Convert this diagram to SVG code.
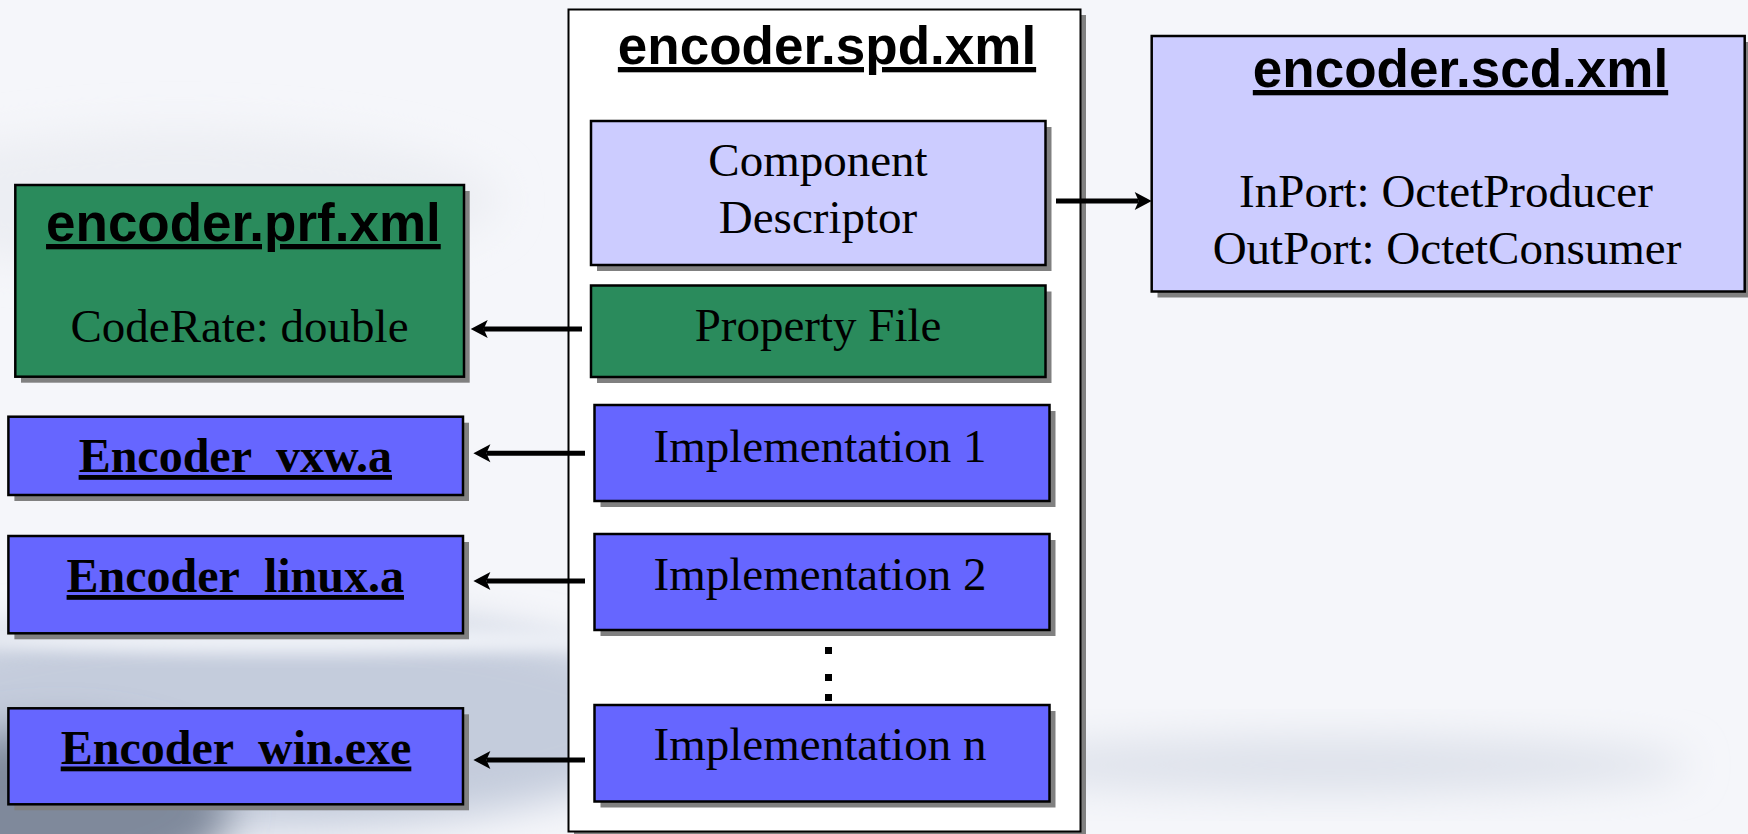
<svg xmlns="http://www.w3.org/2000/svg" width="1748" height="834" viewBox="0 0 1748 834">
  <defs>
    <style>
      .box { stroke: #000; stroke-width: 2.5; }
      .shadow { fill: #808080; }
      .lilac { fill: #ccccff; }
      .green { fill: #2a8b5c; }
      .blue { fill: #6666ff; }
      .title { font-family: "Liberation Sans", Arial, sans-serif; font-weight: bold; font-size: 53px; text-anchor: middle; fill: #000; text-decoration: underline; }
      .serif { font-family: "Liberation Serif", "Times New Roman", serif; font-size: 47px; text-anchor: middle; fill: #000; }
      .file { font-family: "Liberation Serif", "Times New Roman", serif; font-weight: bold; font-size: 48px; text-anchor: middle; fill: #000; text-decoration: underline; }
      .conn { stroke: #000; stroke-width: 5; fill: none; marker-end: url(#head); }
    </style>
    <marker id="head" markerUnits="userSpaceOnUse" markerWidth="30" markerHeight="30" refX="0" refY="0" orient="auto" overflow="visible">
      <path d="M -4,-9 L 13,0 L -4,9 L 0,0 Z" fill="#000"/>
    </marker>
    <filter id="blur20" x="-50%" y="-50%" width="200%" height="200%"><feGaussianBlur stdDeviation="20"/></filter>
    <filter id="blur8" x="-50%" y="-50%" width="200%" height="200%"><feGaussianBlur stdDeviation="8"/></filter>
  </defs>

  <!-- background -->
  <g id="background">
    <rect x="0" y="0" width="1748" height="834" fill="#f5f6fa"/>
    <ellipse cx="180" cy="200" rx="320" ry="70" fill="#eceef3" filter="url(#blur20)"/>
    <ellipse cx="260" cy="720" rx="420" ry="110" fill="#c4ccdc" filter="url(#blur20)"/>
    <ellipse cx="300" cy="640" rx="330" ry="14" fill="#eef1f7" filter="url(#blur8)"/>
    <ellipse cx="60" cy="810" rx="170" ry="80" fill="#7f899b" filter="url(#blur20)"/>
    <ellipse cx="1330" cy="765" rx="360" ry="28" fill="#dde1ea" filter="url(#blur20)"/>
  </g>

  <!-- container -->
  <g id="spd">
    <rect class="shadow" x="574" y="15" width="512" height="822"/>
    <rect x="568.5" y="9.5" width="512" height="822" fill="#fff" stroke="#000" stroke-width="2"/>
    <text class="title" x="827" y="64">encoder.spd.xml</text>
  </g>

  <g id="component-descriptor">
    <rect class="shadow" x="597" y="127" width="454.5" height="144"/>
    <rect class="box lilac" x="591" y="121" width="454.5" height="144"/>
    <text class="serif" x="818" y="176">Component</text>
    <text class="serif" x="818" y="233">Descriptor</text>
  </g>

  <g id="property-file">
    <rect class="shadow" x="597" y="291.5" width="454.5" height="91.5"/>
    <rect class="box green" x="591" y="285.5" width="454.5" height="91.5"/>
    <text class="serif" x="818" y="341">Property File</text>
  </g>

  <g id="impl1">
    <rect class="shadow" x="600.5" y="411" width="455" height="96"/>
    <rect class="box blue" x="594.5" y="405" width="455" height="96"/>
    <text class="serif" x="820" y="462">Implementation 1</text>
  </g>

  <g id="impl2">
    <rect class="shadow" x="600.5" y="540" width="455" height="96"/>
    <rect class="box blue" x="594.5" y="534" width="455" height="96"/>
    <text class="serif" x="820" y="590">Implementation 2</text>
  </g>

  <g id="ellipsis">
    <rect x="825" y="647" width="7" height="7" fill="#000"/>
    <rect x="825" y="674" width="7" height="7" fill="#000"/>
    <rect x="825" y="694" width="7" height="7" fill="#000"/>
  </g>

  <g id="implN">
    <rect class="shadow" x="600.5" y="711" width="455" height="96.5"/>
    <rect class="box blue" x="594.5" y="705" width="455" height="96.5"/>
    <text class="serif" x="820" y="760">Implementation n</text>
  </g>

  <g id="scd">
    <rect class="shadow" x="1157.5" y="42" width="593" height="255.5"/>
    <rect class="box lilac" x="1151.7" y="36" width="593" height="255.5"/>
    <text class="title" x="1460.5" y="87">encoder.scd.xml</text>
    <text class="serif" x="1446" y="207">InPort: OctetProducer</text>
    <text class="serif" x="1447" y="263.5">OutPort: OctetConsumer</text>
  </g>

  <g id="prf">
    <rect class="shadow" x="21" y="191" width="448.7" height="191.7"/>
    <rect class="box green" x="15.3" y="185" width="448.7" height="191.7"/>
    <text class="title" x="243.4" y="241">encoder.prf.xml</text>
    <text class="serif" x="239.5" y="342">CodeRate: double</text>
  </g>

  <g id="vxw">
    <rect class="shadow" x="14.4" y="422.7" width="454.6" height="78.3"/>
    <rect class="box blue" x="8.4" y="416.7" width="454.6" height="78.3"/>
    <text class="file" x="235.3" y="472">Encoder_vxw.a</text>
  </g>

  <g id="linux">
    <rect class="shadow" x="14.4" y="542" width="454.6" height="97.3"/>
    <rect class="box blue" x="8.4" y="536" width="454.6" height="97.3"/>
    <text class="file" x="235.3" y="592">Encoder_linux.a</text>
  </g>

  <g id="win">
    <rect class="shadow" x="14.4" y="714.3" width="454.6" height="96"/>
    <rect class="box blue" x="8.4" y="708.3" width="454.6" height="96"/>
    <text class="file" x="236" y="763.5">Encoder_win.exe</text>
  </g>

  <g id="connectors">
    <line class="conn" x1="1056" y1="201" x2="1138.7" y2="201"/>
    <line class="conn" x1="582" y1="329" x2="483.7" y2="329"/>
    <line class="conn" x1="585" y1="453.3" x2="486.4" y2="453.3"/>
    <line class="conn" x1="585" y1="581" x2="486.4" y2="581"/>
    <line class="conn" x1="585" y1="760" x2="486.4" y2="760"/>
  </g>
</svg>
